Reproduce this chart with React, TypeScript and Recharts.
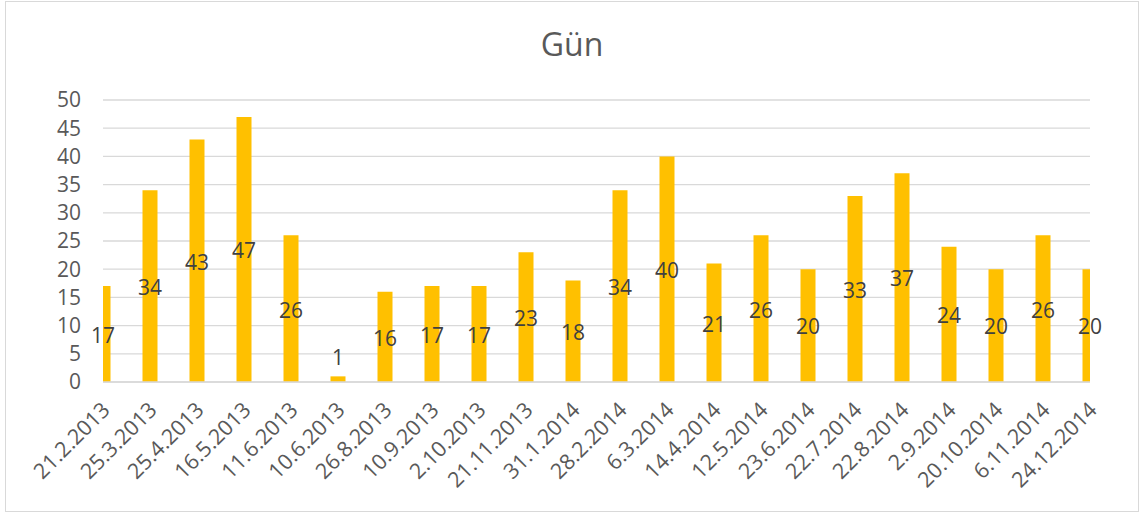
import { Bar, BarChart, CartesianGrid, LabelList, XAxis, YAxis } from "recharts"

// Gün sayıları, tarih sırasıyla
const dates = [
    "21.2.2013", "25.3.2013", "25.4.2013", "16.5.2013", "11.6.2013", "10.6.2013",
    "26.8.2013", "10.9.2013", "2.10.2013", "21.11.2013", "31.1.2014", "28.2.2014",
    "6.3.2014", "14.4.2014", "12.5.2014", "23.6.2014", "22.7.2014", "22.8.2014",
    "2.9.2014", "20.10.2014", "6.11.2014", "24.12.2014",
]
const days = [17, 34, 43, 47, 26, 1, 16, 17, 17, 23, 18, 34, 40, 21, 26, 20, 33, 37, 24, 20, 26, 20]
const yTicks = [0, 5, 10, 15, 20, 25, 30, 35, 40, 45, 50]

const data = dates.map((d, i) => ({ idx: i, date: d, gun: days[i] }))
const xTicks = data.map((d) => d.idx)

const FONT = "'Open Sans', 'Segoe UI', sans-serif"

const DateTick = (props: any) => {
    const { x, y, payload } = props
    const tx = x + 3
    const ty = y + 16
    return (
        <text
            x={tx}
            y={ty}
            dy="0.35em"
            textAnchor="end"
            transform={`rotate(-45 ${tx} ${ty})`}
            fill="#595959"
            fontSize={21.5}
            fontFamily={FONT}
        >
            {dates[payload.value]}
        </text>
    )
}

const ValueLabel = (props: any) => {
    const { x, y, width, height, value } = props
    const bottom = y + height
    const cy = Math.min(y + height / 2, bottom - 26)
    return (
        <text
            x={x + width / 2}
            y={cy}
            dy="0.42em"
            textAnchor="middle"
            fill="#404040"
            fontSize={21}
            fontFamily={FONT}
        >
            {value}
        </text>
    )
}

export default function App() {
    return (
        <div style={{ position: "absolute", left: 0, top: 0, width: 1144, height: 515, background: "#fff" }}>
            <div
                style={{
                    position: "absolute",
                    left: 5,
                    top: 1,
                    width: 1132,
                    height: 509,
                    border: "1px solid #d9d9d9",
                }}
            />
            <div
                style={{
                    position: "absolute",
                    left: 0,
                    width: 1144,
                    top: 28,
                    textAlign: "center",
                    fontFamily: FONT,
                    fontSize: 32,
                    lineHeight: "32px",
                    color: "#595959",
                }}
            >
                Gün
            </div>
            <BarChart
                width={1144}
                height={515}
                data={data}
                margin={{ top: 100, right: 54, left: 43, bottom: 13 }}
                style={{ position: "absolute", left: 0, top: 0 }}
            >
                <CartesianGrid vertical={false} stroke="#d9d9d9" strokeWidth={1.3} />
                <XAxis
                    dataKey="idx"
                    type="number"
                    domain={[0, 21]}
                    ticks={xTicks}
                    interval={0}
                    allowDataOverflow
                    height={120}
                    tickLine={false}
                    axisLine={{ stroke: "#d9d9d9", strokeWidth: 1.3 }}
                    tick={<DateTick />}
                />
                <YAxis
                    type="number"
                    domain={[0, 50]}
                    ticks={yTicks}
                    interval={0}
                    width={60}
                    tickLine={false}
                    axisLine={false}
                    tickMargin={16}
                    tick={{ fill: "#595959", fontSize: 21, fontFamily: FONT }}
                />
                <Bar dataKey="gun" fill="#FFC000" barSize={15} isAnimationActive={false}>
                    <LabelList dataKey="gun" content={<ValueLabel />} />
                </Bar>
            </BarChart>
        </div>
    )
}
